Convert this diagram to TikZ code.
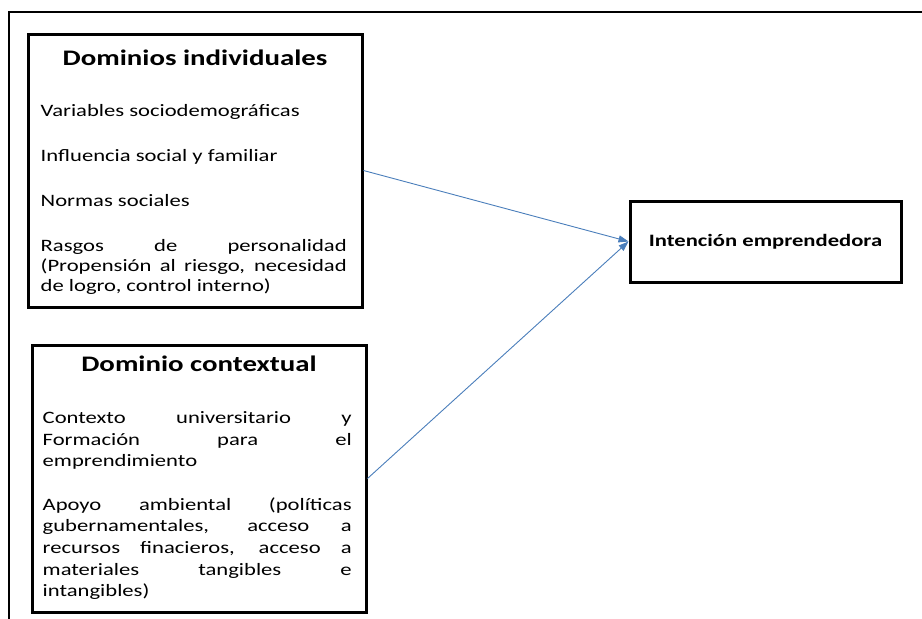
\documentclass[tikz,border=0pt]{standalone}
\usepackage{fontspec}
\setmainfont{Carlito}[FakeStretch=1.3]
\usetikzlibrary{arrows.meta,positioning}
\definecolor{azul}{HTML}{4A7EBB}

\begin{document}
\begin{tikzpicture}[x=1pt, y=-1pt,
  caja/.style={draw, line width=3pt, inner sep=0pt},
  titulo/.style={anchor=base, inner sep=0pt, font=\fontsize{22.2}{26}\selectfont\bfseries},
  cuerpo/.style={anchor=base west, inner sep=0pt, align=justify},
  flecha/.style={-{Triangle[length=10pt,width=7pt]}, draw=azul, line width=0.9pt}]
  \useasboundingbox (0,0) rectangle (922,619);
  \draw[line width=2.6pt] (9,619) -- (9,12) -- (922,12); % marco
  \node[caja, minimum width=334pt, minimum height=273pt] (indiv) at (195,170.5) {};
  \node[caja, minimum width=334pt, minimum height=267pt] (contx) at (199,478.5) {};
  \node[caja, minimum width=271pt, minimum height=81pt,
        font=\fontsize{17.4}{20}\selectfont\bfseries] (inten) at (765.5,241.5) {Intención emprendedora};

  \node[titulo] (tindiv) at ([shift={(0,33)}]indiv.north) {Dominios individuales};
  \node[cuerpo, text width=306pt, font=\fontsize{17.4}{20}\selectfont] (bindiv)
        at ([shift={(14,84)}]indiv.north west)
    {\setlength{\parskip}{25pt}%
     Variables sociodemográficas\par
     Influencia social y familiar\par
     Normas sociales\par
     Rasgos de personalidad\linebreak (Propensión al riesgo, necesidad\linebreak de logro, control interno)};

  \node[titulo] (tcontx) at ([shift={(0,28)}]contx.north) {Dominio contextual};
  \node[cuerpo, text width=309pt, font=\fontsize{17.4}{21.7}\selectfont] (bcontx)
        at ([shift={(12,80)}]contx.north west)
    {\setlength{\parskip}{21.5pt}%
     Contexto universitario y\linebreak Formación para el\linebreak emprendimiento\par
     Apoyo ambiental (políticas\linebreak gubernamentales, acceso a\linebreak recursos finacieros, acceso a\linebreak materiales tangibles e\linebreak intangibles)};

  \draw[flecha] (indiv.east) -- (inten.west);
  \draw[flecha] (contx.east) -- (inten.west);
\end{tikzpicture}
\end{document}
